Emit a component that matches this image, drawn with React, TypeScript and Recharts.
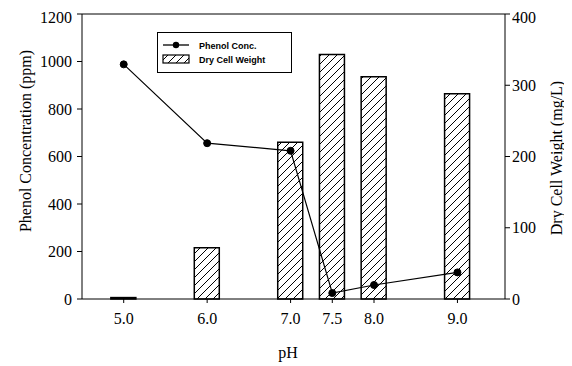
import React from 'react';
import { ComposedChart, Bar, Line, XAxis, YAxis, ReferenceLine, Legend } from 'recharts';

const phValues = [5.0, 6.0, 7.0, 7.5, 8.0, 9.0];
const phenolConc = [988, 656, 624, 25, 59, 112];
const dryCellWeight = [2, 72, 220, 343, 312, 288];
const phTicks = [5.0, 6.0, 7.0, 7.5, 8.0, 9.0];
const phenolTicks = [0, 200, 400, 600, 800, 1000, 1200];
const weightTicks = [0, 100, 200, 300, 400];

const data = phValues.map((ph, i) => ({ ph, phenol: phenolConc[i], weight: dryCellWeight[i] }));

const SERIF = '"Liberation Serif", "Times New Roman", serif';
const SANS = '"Liberation Sans", Arial, sans-serif';

const XTick = ({ x, y, payload }: any) => (
  <text
    x={x}
    y={y}
    dy="0.71em"
    textAnchor="middle"
    style={{ fontFamily: SERIF, fontSize: 16 }}
    fill="#000"
  >
    {Number(payload.value).toFixed(1)}
  </text>
);

const YTick = ({ x, y, payload, textAnchor }: any) => (
  <text
    x={x}
    y={y}
    dy="0.355em"
    textAnchor={textAnchor}
    style={{ fontFamily: SERIF, fontSize: 16 }}
    fill="#000"
  >
    {payload.value}
  </text>
);

const LegendBox = () => (
  <div
    style={{
      width: 135,
      height: 41,
      border: '1px solid #000',
      boxSizing: 'border-box',
      background: '#fff',
    }}
  >
    <svg width={133} height={39} style={{ display: 'block' }}>
      <line x1={5} y1={12} x2={31} y2={12} stroke="#000" strokeWidth={1.3} />
      <circle cx={18} cy={12} r={3.2} fill="#000" />
      <text x={41} y={15.5} style={{ fontFamily: SANS, fontSize: 9, fontWeight: 'bold' }} fill="#000">
        Phenol Conc.
      </text>
      <rect x={5} y={22} width={26} height={8} fill="url(#hatch)" stroke="#000" strokeWidth={1.2} />
      <text x={41} y={29.5} style={{ fontFamily: SANS, fontSize: 9, fontWeight: 'bold' }} fill="#000">
        Dry Cell Weight
      </text>
    </svg>
  </div>
);

export default function App() {
  const titleStyle = { fontFamily: SERIF, fontSize: 16 };
  return (
    <div style={{ fontFamily: SERIF, width: 572, height: 366 }}>
      <ComposedChart
        width={572}
        height={366}
        data={data}
        margin={{ top: 6, right: 15, bottom: 35, left: 14 }}
      >
        <defs>
          <pattern id="hatch" patternUnits="userSpaceOnUse" width={8} height={8}>
            <path d="M0,8 L8,0 M-2,2 L2,-2 M6,10 L10,6" stroke="#000" strokeWidth={1} />
          </pattern>
        </defs>
        <g className="axis-titles">
          <text
            x={280}
            y={344}
            textAnchor="middle"
            dominantBaseline="central"
            style={titleStyle}
            fill="#000"
          >
            pH
          </text>
          <text
            x={17}
            y={133}
            transform="rotate(-90, 17, 133)"
            textAnchor="middle"
            dominantBaseline="central"
            style={titleStyle}
            fill="#000"
          >
            Phenol Concentration (ppm)
          </text>
          <text
            x={548}
            y={150}
            transform="rotate(-90, 548, 150)"
            textAnchor="middle"
            dominantBaseline="central"
            style={titleStyle}
            fill="#000"
          >
            Dry Cell Weight (mg/L)
          </text>
        </g>
        <XAxis
          dataKey="ph"
          type="number"
          domain={[4.5, 9.57]}
          ticks={phTicks}
          tick={<XTick />}
          tickSize={4}
          tickMargin={10}
          height={40}
          stroke="#000"
          allowDataOverflow
        />
        <YAxis
          yAxisId="left"
          orientation="left"
          domain={[0, 1200]}
          ticks={phenolTicks}
          tick={<YTick />}
          tickSize={5}
          tickMargin={5}
          width={60}
          stroke="#000"
        />
        <YAxis
          yAxisId="right"
          orientation="right"
          domain={[0, 400]}
          ticks={weightTicks}
          tick={<YTick />}
          tickSize={5}
          tickMargin={2}
          width={60}
          stroke="#000"
        />
        <ReferenceLine yAxisId="left" y={1200} stroke="#000" strokeWidth={1} />
        <Legend
          layout="vertical"
          verticalAlign="middle"
          align="center"
          content={() => <LegendBox />}
          wrapperStyle={{ left: 149, top: 24, width: 135, height: 41 }}
        />
        <Bar
          yAxisId="right"
          dataKey="weight"
          barSize={25}
          fill="url(#hatch)"
          stroke="#000"
          strokeWidth={1.5}
          isAnimationActive={false}
        />
        <Line
          yAxisId="left"
          dataKey="phenol"
          type="linear"
          stroke="#000"
          strokeWidth={1.2}
          dot={{ r: 3.5, fill: '#000', stroke: '#000', strokeWidth: 1 }}
          isAnimationActive={false}
        />
      </ComposedChart>
    </div>
  );
}
